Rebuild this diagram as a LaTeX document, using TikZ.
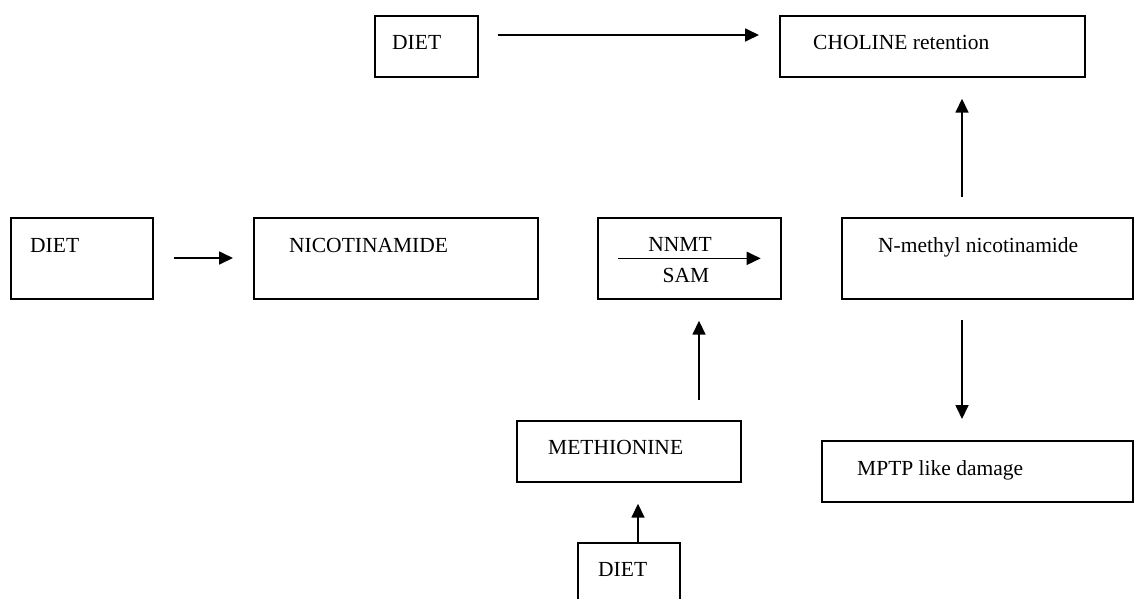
\documentclass[tikz,border=0pt]{standalone}
\usepackage{fontspec}
\setmainfont{Liberation Serif}
\usetikzlibrary{arrows.meta}
\begin{document}
\begin{tikzpicture}[x=1pt,y=-1pt,
  box/.style={draw=black, line width=1.7pt, rectangle, inner sep=0pt, anchor=north west},
  txt/.style={inner sep=0pt, anchor=base west, font=\fontsize{21.5}{24}\selectfont},
  txtc/.style={inner sep=0pt, anchor=base, font=\fontsize{21.5}{24}\selectfont},
  arr/.style={line width=1.7pt, -{Triangle[length=14pt,width=13pt]}}]
\useasboundingbox[fill=white] (0,0) rectangle (1134,598);
% boxes
\node[box, minimum width=103pt, minimum height=61pt] (dietTop) at (374,15) {};
\node[box, minimum width=305pt, minimum height=61pt] (choline) at (779,15) {};
\node[box, minimum width=142pt, minimum height=81pt] (dietLeft) at (10,217) {};
\node[box, minimum width=284pt, minimum height=81pt] (nicot) at (253,217) {};
\node[box, minimum width=183pt, minimum height=81pt] (nnmt) at (597,217) {};
\node[box, minimum width=291pt, minimum height=81pt] (nmeth) at (841,217) {};
\node[box, minimum width=224pt, minimum height=61pt] (methio) at (516,420) {};
\node[box, minimum width=311pt, minimum height=61pt] (mptp) at (821,440) {};
\node[box, minimum width=102pt, minimum height=70pt] (dietBot) at (577,542) {};
% texts
\node[txt] (tDietTop) at (392,49) {DIET};
\node[txt] (tCholine) at (813,49) {CHOLINE retention};
\node[txt] (tDietLeft) at (30,252) {DIET};
\node[txt] (tNicot) at (289,252) {NICOTINAMIDE};
\node[txtc] (tNnmt) at (680,251) {NNMT};
\node[txtc] (tSam) at (686,282) {SAM};
\node[txt] (tNmeth) at (878,252) {N-methyl nicotinamide};
\node[txt] (tMethio) at (548,454) {METHIONINE};
\node[txt] (tMptp) at (857,475) {MPTP like damage};
\node[txt] (tDietBot) at (598,576) {DIET};
% helper coordinates for off-centre connectors
\coordinate (xa) at (962,0);
\coordinate (xb) at (699,0);
\coordinate (xc) at (638,0);
% connectors
\draw[arr, shorten <=19pt, shorten >=20pt] (dietTop.east |- 0,35) -- (choline.west |- 0,35);
\draw[arr, shorten <=20pt, shorten >=21pt] (nmeth.north -| xa) -- (choline.south -| xa);
\draw[arr, shorten <=20pt, shorten >=20pt] (dietLeft.east |- 0,258) -- (nicot.west |- 0,258);
\draw[arr] ([xshift=21pt]nnmt.west) -- ([xshift=-21pt]nnmt.east);
\draw[arr, shorten <=20pt, shorten >=21pt] (methio.north -| xb) -- (nnmt.south -| xb);
\draw[arr, shorten >=21pt] (dietBot.north -| xc) -- (methio.south -| xc);
\draw[arr, shorten <=20pt, shorten >=21pt] (nmeth.south -| xa) -- (mptp.north -| xa);
\end{tikzpicture}
\end{document}
